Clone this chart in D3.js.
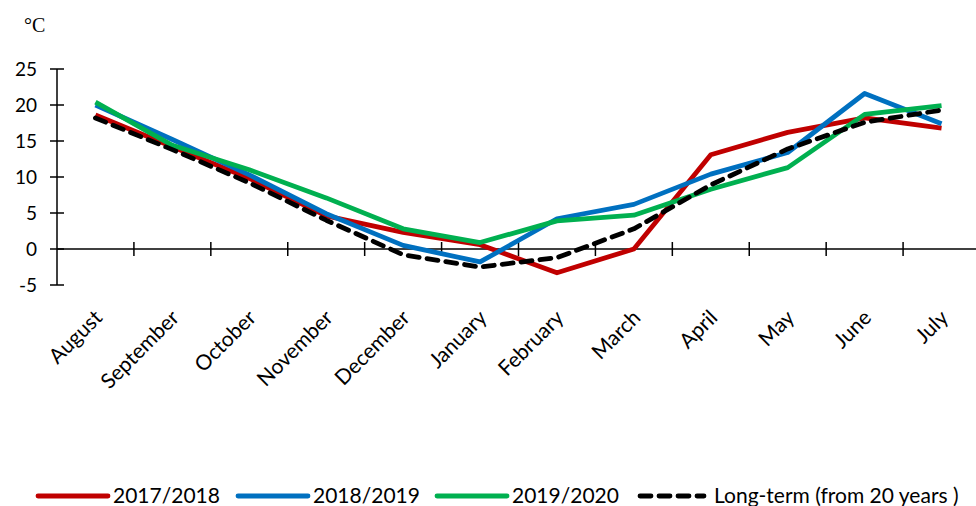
<!DOCTYPE html>
<html>
<head>
<meta charset="utf-8">
<script src="https://cdn.jsdelivr.net/npm/d3@7"></script>
<style>
	body { margin: 0; background: #fff; }
	svg text { font-family: Lato, "Open Sans", sans-serif; fill: #000; }
</style>
</head>
<body>
<div id="viz"></div>
<script>
const WIDTH = 976
const HEIGHT = 506

const months = ['August', 'September', 'October', 'November', 'December', 'January',
	'February', 'March', 'April', 'May', 'June', 'July']
const y_ticks = [-5, 0, 5, 10, 15, 20, 25]

const s2017 = [18.6, 14.2, 9.8, 4.6, 2.3, 0.6, -3.3, 0.0, 13.1, 16.2, 18.2, 16.8]
const s2018 = [20.0, 15.2, 10.3, 4.9, 0.5, -1.8, 4.2, 6.2, 10.4, 13.4, 21.6, 17.4]
const s2019 = [20.4, 14.4, 11.0, 7.1, 2.8, 0.9, 3.9, 4.7, 8.3, 11.3, 18.7, 19.9]
const longterm = [18.2, 13.8, 9.2, 4.0, -0.8, -2.5, -1.2, 2.8, 8.9, 13.9, 17.6, 19.3]

const series = [
	{ name: '2017/2018', values: s2017, color: '#C00000', dash: null },
	{ name: '2018/2019', values: s2018, color: '#0070C0', dash: null },
	{ name: '2019/2020', values: s2019, color: '#00B050', dash: null },
	{ name: 'Long-term (from 20 years )', values: longterm, color: '#000000', dash: '11,8' },
]

const svg = d3.select('#viz').append('svg')
	.attr('width', WIDTH)
	.attr('height', HEIGHT)

const x = d3.scaleBand().domain(months).range([57, 980])
const y = d3.scaleLinear().domain([-5, 25]).range([285, 69])

// y axis
const y_axis = svg.append('g').attr('transform', 'translate(57,0)')
y_axis.append('line')
	.attr('y1', y(25)).attr('y2', y(-5))
	.attr('stroke', '#000').attr('stroke-width', 1.5)
y_axis.selectAll('line.tick').data(y_ticks).enter().append('line')
	.attr('class', 'tick')
	.attr('x1', -7).attr('x2', 7)
	.attr('y1', (d) => y(d)).attr('y2', (d) => y(d))
	.attr('stroke', '#000').attr('stroke-width', 1.5)
y_axis.selectAll('text').data(y_ticks).enter().append('text')
	.attr('x', -20)
	.attr('y', (d) => y(d))
	.attr('dy', '0.35em')
	.attr('text-anchor', 'end')
	.style('font-size', '19px')
	.text((d) => d)

// x axis at zero
const x_axis = svg.append('g').attr('transform', `translate(0,${y(0)})`)
x_axis.append('line')
	.attr('x1', 57).attr('x2', WIDTH)
	.attr('stroke', '#000').attr('stroke-width', 1.5)
x_axis.selectAll('line.tick').data(months.slice(1)).enter().append('line')
	.attr('class', 'tick')
	.attr('x1', (d) => x(d)).attr('x2', (d) => x(d))
	.attr('y1', -7).attr('y2', 7)
	.attr('stroke', '#000').attr('stroke-width', 1.5)

// month labels
svg.append('g').selectAll('text').data(months).enter().append('text')
	.attr('transform', (d) => `translate(${x(d) + x.bandwidth() / 2 + 8},${319}) rotate(-45)`)
	.attr('text-anchor', 'end')
	.style('font-size', '21px')
	.text((d) => d)

// unit
svg.append('text')
	.attr('x', 24).attr('y', 32)
	.style('font-family', '"Liberation Serif", serif')
	.style('font-size', '20px')
	.text('°C')

// lines
const line = d3.line()
	.x((d, i) => x(months[i]) + x.bandwidth() / 2)
	.y((d) => y(d))

svg.append('g').selectAll('path').data(series).enter().append('path')
	.attr('d', (d) => line(d.values))
	.attr('fill', 'none')
	.attr('stroke', (d) => d.color)
	.attr('stroke-width', 4.8)
	.attr('stroke-linejoin', 'round')
	.attr('stroke-linecap', (d) => (d.dash ? 'round' : 'butt'))
	.attr('stroke-dasharray', (d) => d.dash)

// legend
const legend_x = [38, 238, 437, 640]
const legend = svg.append('g').selectAll('g').data(series).enter().append('g')
	.attr('transform', (d, i) => `translate(${legend_x[i]},496)`)
legend.append('line')
	.attr('x1', 0).attr('x2', (d) => (d.dash ? 64 : 70))
	.attr('stroke', (d) => d.color)
	.attr('stroke-width', 4.8)
	.attr('stroke-linecap', 'round')
	.attr('stroke-dasharray', (d) => d.dash)
legend.append('text')
	.attr('x', (d) => (d.dash ? 74 : 75))
	.attr('dy', '0.35em')
	.style('font-size', '21px')
	.text((d) => d.name)
</script>
</body>
</html>
